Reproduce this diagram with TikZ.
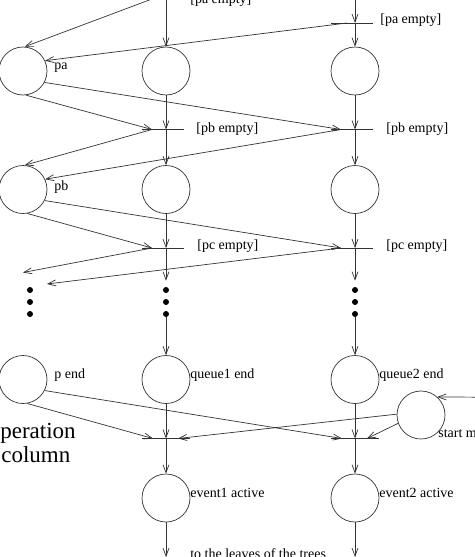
\documentclass[tikz,border=0pt]{standalone}
\usepackage{fontspec}
\setmainfont{Liberation Serif}
\usetikzlibrary{arrows.meta}
\begin{document}
\begin{tikzpicture}[x=1pt,y=-1pt,line width=0.7pt,draw=black!80,
  place/.style={circle,draw,minimum size=48pt,inner sep=0pt},
  lbl/.style={font=\fontsize{14}{16}\selectfont,inner sep=0pt,anchor=west,text=black},
  big/.style={font=\fontsize{23}{26}\selectfont,inner sep=0pt,anchor=base west,text=black},
  arr/.style={-{Straight Barb[length=8pt,width=6pt]}},
  bdot/.style={circle,fill=black,inner sep=0pt,minimum size=6pt},
  barline/.style={line width=0.7pt}]
\useasboundingbox (0,0) rectangle (474,557);
% places
\node[place] (La) at (23,71) {};
\node[place] (Ma) at (166,71) {};
\node[place] (Ra) at (355,71) {};
\node[place] (Lb) at (23,189.5) {};
\node[place] (Mb) at (166,189.5) {};
\node[place] (Rb) at (355,189.5) {};
\node[place] (Le) at (23,379.5) {};
\node[place] (Me) at (166,379.5) {};
\node[place] (Re) at (355,379.5) {};
\node[place] (Ev1) at (166,498) {};
\node[place] (Ev2) at (355,498) {};
\node[place] (St) at (421,415) {};
% dots
\foreach \c/\x in {L/30,M/166,R/355}{
  \node[bdot] (d\c1) at (\x,290) {};
  \node[bdot] (d\c2) at (\x,302) {};
  \node[bdot] (d\c3) at (\x,314) {};
}
% transitions (bars)
\foreach \n/\x/\y in {Ma/166/-1,Ra/355/23,Mb/166/129.5,Rb/355/129.5,Mc/166/248,Rc/355/248}{
  \coordinate (b\n) at (\x,\y);
  \coordinate (p\n) at (\x-14,\y);
  \draw[barline] (\x-24,\y) -- (\x+18,\y);
}
\foreach \n/\x/\y in {Mf/166/438.5,Rf/355/438.5}{
  \coordinate (b\n) at (\x,\y);
  \coordinate (p\n) at (\x-13,\y);
  \coordinate (q\n) at (\x+12,\y);
  \draw[barline] (\x-24,\y) -- (\x+24,\y);
}
\coordinate (pRa) at (347,23);
% free ends
\coordinate (topM) at (166,-12);
\coordinate (topR) at (355,-12);
\coordinate (endM) at (166,557);
\coordinate (endR) at (355,557);
\coordinate (lt1) at (23,272.5);
\coordinate (lt2) at (47,284);
\coordinate (stin) at (480,397.2);
% middle column
\draw[arr] (topM) -- (Ma);
\draw[arr] (Ma) -- (bMb);
\draw[arr] (bMb) -- (Mb);
\draw[arr] (Mb) -- (bMc);
\draw[arr,shorten >=6pt] (bMc) -- (dM1);
\draw[arr] (dM3) -- (Me);
\draw[arr] (Me) -- (bMf);
\draw[arr] (bMf) -- (Ev1);
\draw[arr] (Ev1) -- (endM);
% right column
\draw[arr] (topR) -- (bRa);
\draw[arr] (bRa) -- (Ra);
\draw[arr] (Ra) -- (bRb);
\draw[arr] (bRb) -- (Rb);
\draw[arr] (Rb) -- (bRc);
\draw[arr,shorten >=6pt] (bRc) -- (dR1);
\draw[arr] (dR3) -- (Re);
\draw[arr] (Re) -- (bRf);
\draw[arr] (bRf) -- (Ev2);
\draw[arr] (Ev2) -- (endR);
% left column connections
\draw[arr] (pMa) -- (La.86);
\draw[arr] (pRa) -- (La.25);
\draw[arr] (La.-83) -- (pMb);
\draw[arr] (La.-28) -- (pRb);
\draw[arr] (pMb) -- (Lb.86);
\draw[arr] (pRb) -- (Lb.25);
\draw[arr] (Lb.-80) -- (pMc);
\draw[arr] (Lb.-27) -- (pRc);
\draw[arr] (pMc) -- (lt1);
\draw[arr] (pRc) -- (lt2);
\draw[arr] (Le.-80) -- (pMf);
\draw[arr] (Le.-27) -- (pRf);
\draw[arr] (St.178) -- (qMf);
\draw[arr] (St.200) -- (qRf);
\draw[arr] (stin) -- (St.48);
% labels
\node[lbl] (tpa) at (54,68) {pa};
\node[lbl] (tpb) at (54,187) {pb};
\node[lbl] (tpe) at (54,375) {p end};
\node[lbl] (tq1) at (190,375) {queue1 end};
\node[lbl] (tq2) at (379,375) {queue2 end};
\node[lbl] (te1) at (190,493) {event1 active};
\node[lbl] (te2) at (379,493) {event2 active};
\node[lbl] (tpaM) at (190,0) {[pa empty]};
\node[lbl] (tpaR) at (380,20) {[pa empty]};
\node[lbl] (tpbM) at (196,129) {[pb empty]};
\node[lbl] (tpbR) at (386,129) {[pb empty]};
\node[lbl] (tpcM) at (197,246) {[pc empty]};
\node[lbl] (tpcR) at (386,246) {[pc empty]};
\node[lbl,anchor=base west] (tleaves) at (190,558) {to the leaves of the trees};
\node[lbl] (tst) at (438,434) {start m};
\node[big] (top1) at (0,438) {peration};
\node[big] (top2) at (1,462) {column};
\end{tikzpicture}
\end{document}
